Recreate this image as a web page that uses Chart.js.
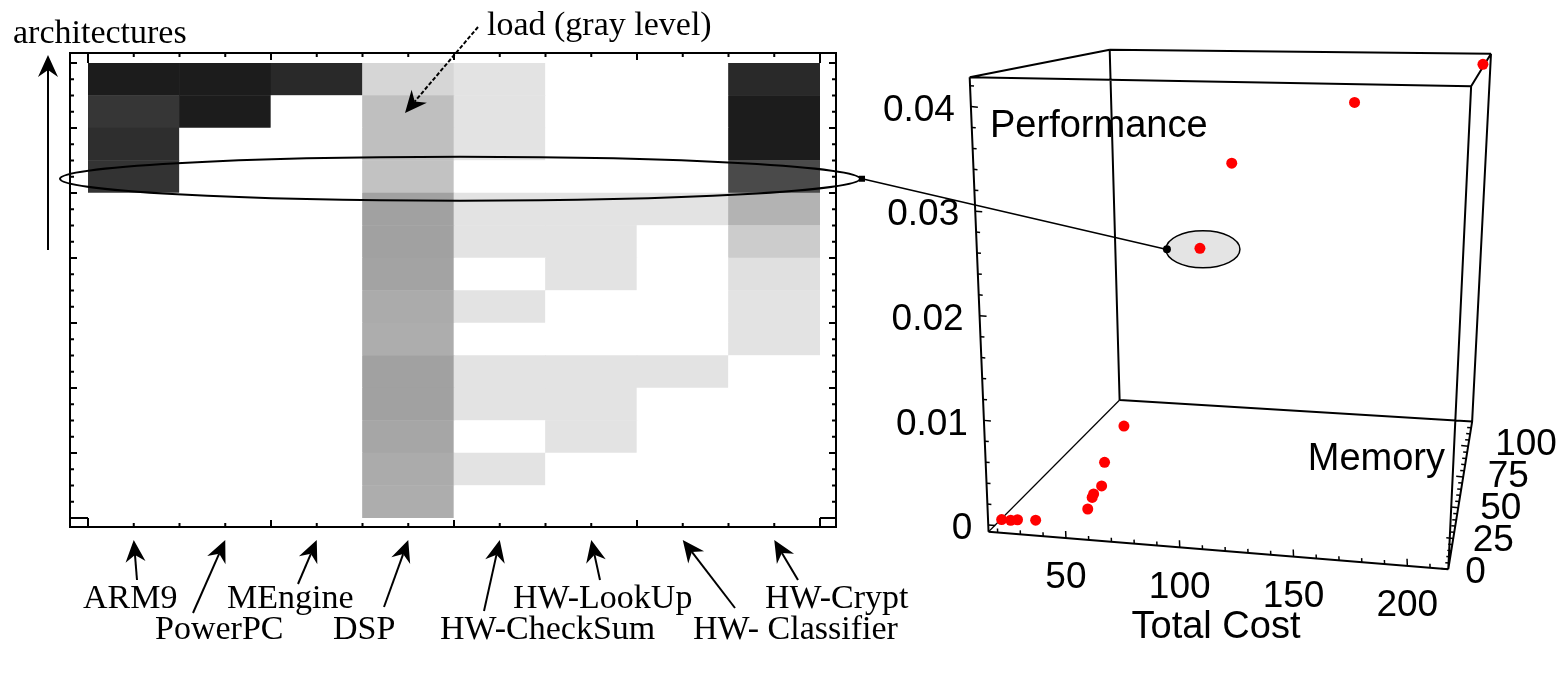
<!DOCTYPE html>
<html>
<head>
<meta charset="utf-8">
<script src="https://cdn.jsdelivr.net/npm/chart.js@4.4.1/dist/chart.umd.min.js"></script>
<style>
  html, body { margin: 0; padding: 0; background: #fff; }
  #wrap { position: relative; width: 1566px; height: 674px; }
  canvas { position: absolute; left: 0; top: 0; }
</style>
</head>
<body>
<div id="wrap">
  <canvas id="heat" width="1566" height="674"></canvas>
  <canvas id="space" width="1566" height="674"></canvas>
</div>
<script>
// columns of the load map (left to right)
var columns = ['ARM9', 'PowerPC', 'MEngine', 'DSP', 'HW-CheckSum', 'HW-LookUp', 'HW-Classifier', 'HW-Crypt'];
var columnLabels = ['ARM9', 'PowerPC', 'MEngine', 'DSP', 'HW-CheckSum', 'HW-LookUp', 'HW- Classifier', 'HW-Crypt'];

// load of each resource per architecture, row 0 = top architecture (0 = white, 1 = black)
var loadARM9       = [0.89, 0.79, 0.82, 0.80, 0, 0, 0, 0, 0, 0, 0, 0, 0, 0];
var loadPowerPC    = [0.89, 0.89, 0, 0, 0, 0, 0, 0, 0, 0, 0, 0, 0, 0];
var loadMEngine    = [0.84, 0, 0, 0, 0, 0, 0, 0, 0, 0, 0, 0, 0, 0];
var loadDSP        = [0.16, 0.25, 0.25, 0.24, 0.37, 0.37, 0.36, 0.33, 0.32, 0.37, 0.37, 0.35, 0.33, 0.32];
var loadCheckSum   = [0.11, 0.11, 0.11, 0, 0.11, 0.11, 0, 0.11, 0, 0.11, 0.11, 0, 0.11, 0];
var loadLookUp     = [0, 0, 0, 0, 0.11, 0.11, 0.11, 0, 0, 0.11, 0.11, 0.11, 0, 0];
var loadClassifier = [0, 0, 0, 0, 0.11, 0, 0, 0, 0, 0.11, 0, 0, 0, 0];
var loadCrypt      = [0.84, 0.89, 0.89, 0.71, 0.30, 0.20, 0.12, 0.11, 0.11, 0, 0, 0, 0, 0];
var selectedRow = 3;

// design space: one point per architecture
var totalCost   = [21, 25, 28, 36, 57, 57, 56, 58, 57, 62, 89, 104, 158, 217];
var memory      = [2, 2, 2, 2, 7, 12, 16, 20, 26, 36, 60, 60, 72, 84];
var performance = [0.0004, 0.0004, 0.0005, 0.0006, 0.0015, 0.0021, 0.0020, 0.0024, 0.0041, 0.0068, 0.0235, 0.0326, 0.0388, 0.0427];
var selectedPoint = 10;

var costTicks = [50, 100, 150, 200];
var memoryTicks = [0, 25, 50, 75, 100];
var perfTicks = [0, 0.01, 0.02, 0.03, 0.04];
var costRange = [16, 218];
var memRange = [0, 120];
var perfRange = [-0.00065, 0.0428];

var serif = '34px "Liberation Serif", "Times New Roman", serif';
var sans = '37px "Liberation Sans", Arial, sans-serif';
var heatEllipseEnd = null;

function gray(l) {
    var g = Math.round(255 * (1 - l));
    return 'rgb(' + g + ',' + g + ',' + g + ')';
}

function arrowTo(ctx, x0, y0, x1, y1, dashed) {
    var ang = Math.atan2(y1 - y0, x1 - x0);
    var cos = Math.cos(ang), sin = Math.sin(ang);
    var L = 22, W = 10, N = 15;
    function pt(a, b) { return [x1 - cos * a - sin * b, y1 - sin * a + cos * b]; }
    ctx.save();
    ctx.lineWidth = 2;
    if (dashed) ctx.setLineDash([4, 2]);
    ctx.beginPath();
    ctx.moveTo(x0, y0);
    var e = pt(N, 0);
    ctx.lineTo(e[0], e[1]);
    ctx.stroke();
    ctx.setLineDash([]);
    var p1 = pt(L, W), p2 = pt(N, 0), p3 = pt(L, -W);
    ctx.beginPath();
    ctx.moveTo(x1, y1);
    ctx.lineTo(p1[0], p1[1]);
    ctx.lineTo(p2[0], p2[1]);
    ctx.lineTo(p3[0], p3[1]);
    ctx.closePath();
    ctx.fill();
    ctx.restore();
}

// ---------- left: load map ----------
var loads = [loadARM9, loadPowerPC, loadMEngine, loadDSP, loadCheckSum, loadLookUp, loadClassifier, loadCrypt];
var nRows = loadARM9.length;
var heatSets = [];
for (var r = nRows - 1; r >= 0; r--) {
    heatSets.push({
        label: 'architecture ' + (r + 1),
        data: columns.map(function () { return 1; }),
        backgroundColor: loads.map(function (col) { return gray(col[r]); }),
        borderWidth: 0,
        barPercentage: 1,
        categoryPercentage: 1
    });
}

var heatDecor = {
    id: 'heatDecor',
    afterDraw: function (chart) {
        var ctx = chart.ctx, a = chart.chartArea, xs = chart.scales.x, ys = chart.scales.y;
        var F = { l: a.left - 18, t: a.top - 10, r: a.right + 16, b: a.bottom + 9 };
        ctx.save();
        ctx.strokeStyle = '#000';
        ctx.fillStyle = '#000';
        ctx.lineWidth = 2;
        ctx.strokeRect(F.l, F.t, F.r - F.l, F.b - F.t);

        // inward ticks
        ctx.beginPath();
        var nCols = columns.length;
        for (var k = 0; k <= nCols * 2; k++) {
            var px = xs.getPixelForValue(k / 2 - 0.5);
            var edge = k === 0 || k === nCols * 2;
            var len = (k % 4 === 0) ? 7 : 4;
            ctx.moveTo(px, F.b); ctx.lineTo(px, F.b - (edge ? F.b - a.bottom : len));
            ctx.moveTo(px, F.t); ctx.lineTo(px, F.t + (edge ? a.top - F.t : len));
        }
        for (var j = 0; j <= nRows * 2; j++) {
            var py = ys.getPixelForValue(j / 2);
            var lenY = (j % 4 === 0) ? 7 : 4;
            var full = j === 0;
            ctx.moveTo(F.l, py); ctx.lineTo(F.l + (full ? a.left - F.l : lenY), py);
            ctx.moveTo(F.r, py); ctx.lineTo(F.r - (full ? F.r - a.right : lenY), py);
        }
        ctx.stroke();

        // selected architecture
        var cy = ys.getPixelForValue(nRows - selectedRow - 0.5) + 2;
        var left = a.left - 28, right = a.right + 40;
        ctx.beginPath();
        ctx.ellipse((left + right) / 2, cy, (right - left) / 2, 22, 0, 0, Math.PI * 2);
        ctx.stroke();
        ctx.fillRect(right - 1, cy - 3, 6, 6);
        heatEllipseEnd = { x: right + 2, y: cy };

        // texts
        ctx.font = serif;
        ctx.textAlign = 'left';
        ctx.textBaseline = 'alphabetic';
        ctx.fillText('architectures', 13, 43);
        arrowTo(ctx, 48, 250, 48, 55, false);
        ctx.fillText('load (gray level)', 487, 35);
        arrowTo(ctx, 478, 27, 405, 113, true);

        var labelPos = [[83, 608], [155, 639], [227, 608], [333, 639], [440, 639], [513, 608], [693, 639], [765, 608]];
        var tails = [[137, 580], [193, 613], [298, 584], [384, 607], [484, 611], [600, 580], [735, 608], [798, 580]];
        for (var i = 0; i < columnLabels.length; i++) {
            ctx.fillText(columnLabels[i], labelPos[i][0], labelPos[i][1]);
            var tip = xs.getPixelForValue(i);
            arrowTo(ctx, tails[i][0], tails[i][1], tip, F.b + 13, false);
        }
        ctx.restore();
    }
};

var heatChart = new Chart(document.getElementById('heat').getContext('2d'), {
    type: 'bar',
    data: { labels: columns, datasets: heatSets },
    options: {
        responsive: false,
        animation: false,
        events: [],
        layout: { padding: { left: 88, top: 63, right: 746, bottom: 156 } },
        scales: {
            x: { type: 'category', display: false, stacked: true, offset: true },
            y: { display: false, stacked: true, min: 0, max: 14 }
        },
        plugins: { legend: { display: false }, tooltip: { enabled: false } }
    },
    plugins: [heatDecor]
});

// ---------- right: 3-D design space ----------
// screen position of the box corners (cost, memory, performance) = 0 or 1
var box = {
    c000: [990, 535], c100: [1453, 573], c010: [1122, 401], c110: [1477, 423],
    c001: [971, 73], c101: [1476, 82], c011: [1112, 45], c111: [1496, 49]
};

function lerp(p, q, t) { return [p[0] + (q[0] - p[0]) * t, p[1] + (q[1] - p[1]) * t]; }

function proj(c, m, p) {
    var u = (c - costRange[0]) / (costRange[1] - costRange[0]);
    var v = (m - memRange[0]) / (memRange[1] - memRange[0]);
    var w = (p - perfRange[0]) / (perfRange[1] - perfRange[0]);
    var b0 = lerp(lerp(box.c000, box.c100, u), lerp(box.c010, box.c110, u), v);
    var b1 = lerp(lerp(box.c001, box.c101, u), lerp(box.c011, box.c111, u), v);
    return lerp(b0, b1, w);
}

var spacePoints = totalCost.map(function (c, i) {
    var s = proj(c, memory[i], performance[i]);
    return { x: s[0], y: s[1] };
});

function unit(p, q) {
    var dx = q[0] - p[0], dy = q[1] - p[1], l = Math.sqrt(dx * dx + dy * dy);
    return [dx / l, dy / l];
}

var spaceDecor = {
    id: 'spaceDecor',
    beforeDatasetsDraw: function (chart) {
        var ctx = chart.ctx, xs = chart.scales.x, ys = chart.scales.y;
        function P(s) { return [xs.getPixelForValue(s[0]), ys.getPixelForValue(s[1])]; }
        function seg(p, q) { var a = P(p), b = P(q); ctx.moveTo(a[0], a[1]); ctx.lineTo(b[0], b[1]); }
        ctx.save();
        ctx.strokeStyle = '#000';
        ctx.fillStyle = '#000';

        // box edges
        ctx.lineWidth = 2;
        ctx.beginPath();
        seg(box.c000, box.c001); seg(box.c000, box.c100); seg(box.c100, box.c110);
        seg(box.c010, box.c011); seg(box.c010, box.c110);
        seg(box.c001, box.c011); seg(box.c011, box.c111); seg(box.c001, box.c101); seg(box.c101, box.c111);
        seg(box.c100, box.c101); seg(box.c110, box.c111);
        ctx.stroke();
        ctx.lineWidth = 1.2;
        ctx.beginPath();
        seg(box.c000, box.c010);
        ctx.stroke();

        // ticks
        ctx.lineWidth = 1.5;
        ctx.beginPath();
        var dU = unit(box.c000, box.c100), dW = unit(box.c000, box.c001);
        var k, s, len;
        for (k = 0; k <= 21; k++) {
            s = P(proj(costRange[0], memRange[0], k * 0.002));
            len = k % 5 === 0 ? 7 : 4;
            ctx.moveTo(s[0], s[1]); ctx.lineTo(s[0] + dU[0] * len, s[1] + dU[1] * len);
        }
        for (k = 2; k <= 21; k++) {
            s = P(proj(k * 10, memRange[0], perfRange[0]));
            len = k % 5 === 0 ? 7 : 4;
            ctx.moveTo(s[0], s[1]); ctx.lineTo(s[0] + dW[0] * len, s[1] + dW[1] * len);
        }
        for (k = 0; k <= 23; k++) {
            s = P(proj(costRange[1], k * 5, perfRange[0]));
            len = k % 5 === 0 ? 7 : 4;
            ctx.moveTo(s[0], s[1]); ctx.lineTo(s[0] - dU[0] * len, s[1] - dU[1] * len);
        }
        ctx.stroke();

        // tick labels
        ctx.font = sans;
        ctx.textBaseline = 'middle';
        ctx.textAlign = 'right';
        perfTicks.forEach(function (t) {
            var q = P(proj(costRange[0], memRange[0], t));
            ctx.fillText(String(t), q[0] - 16, q[1] + 4);
        });
        ctx.textAlign = 'center';
        costTicks.forEach(function (t) {
            var q = P(proj(t, memRange[0], perfRange[0]));
            ctx.fillText(String(t), q[0], q[1] + 40);
        });
        ctx.textAlign = 'left';
        memoryTicks.forEach(function (t) {
            var q = P(proj(costRange[1], t, perfRange[0]));
            var v = (t - memRange[0]) / (memRange[1] - memRange[0]);
            ctx.fillText(String(t), q[0] + 17 + 12 * v, q[1] + 4 - 7 * v);
        });

        // axis titles
        ctx.font = '38px "Liberation Sans", Arial, sans-serif';
        ctx.textBaseline = 'alphabetic';
        ctx.textAlign = 'left';
        ctx.fillText('Performance', 990, 137);
        ctx.textBaseline = 'middle';
        ctx.textAlign = 'right';
        ctx.fillText('Memory', 1445, 460);
        ctx.textAlign = 'center';
        ctx.fillText('Total Cost', 1216, 628);

        // highlighted architecture
        var sp = spacePoints[selectedPoint];
        var cx = xs.getPixelForValue(sp.x) + 3, cy = ys.getPixelForValue(sp.y) + 1;
        ctx.lineWidth = 1.5;
        if (heatEllipseEnd) {
            ctx.beginPath();
            ctx.moveTo(heatEllipseEnd.x, heatEllipseEnd.y);
            ctx.lineTo(cx - 37, cy);
            ctx.stroke();
        }
        ctx.beginPath();
        ctx.ellipse(cx, cy, 37, 18.5, 0, 0, Math.PI * 2);
        ctx.fillStyle = '#e4e4e4';
        ctx.fill();
        ctx.stroke();
        ctx.fillStyle = '#000';
        ctx.beginPath();
        ctx.arc(cx - 36, cy, 4, 0, Math.PI * 2);
        ctx.fill();
        ctx.restore();
    }
};

var spaceChart = new Chart(document.getElementById('space').getContext('2d'), {
    type: 'scatter',
    data: {
        datasets: [{
            label: 'architectures',
            data: spacePoints,
            pointRadius: 5.5,
            pointStyle: 'circle',
            backgroundColor: '#ff0000',
            borderWidth: 0
        }]
    },
    options: {
        responsive: false,
        animation: false,
        events: [],
        layout: { padding: 0 },
        scales: {
            x: { type: 'linear', display: false, min: 0, max: 1566 },
            y: { type: 'linear', display: false, min: 0, max: 674, reverse: true }
        },
        plugins: { legend: { display: false }, tooltip: { enabled: false } }
    },
    plugins: [spaceDecor]
});
</script>
</body>
</html>
